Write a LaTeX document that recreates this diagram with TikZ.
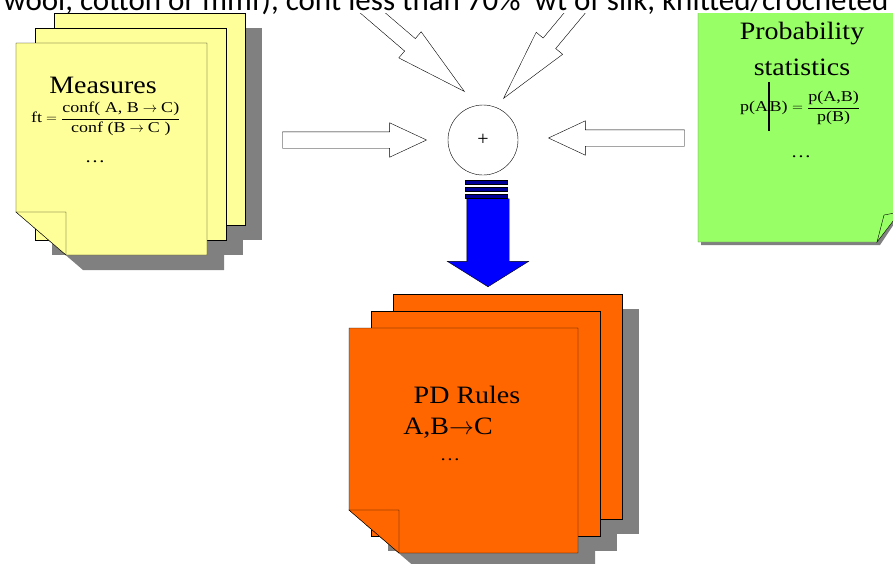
\documentclass[tikz,border=0pt]{standalone}
\usepackage{amsmath}
\usepackage{fontspec}
\setmainfont{Liberation Serif}
\newfontfamily\capfont{Carlito}
\newfontfamily\notefont[FakeStretch=1.12]{Liberation Serif}
\newfontfamily\formfont[FakeStretch=1.2]{Liberation Serif}
\usetikzlibrary{shapes.arrows,positioning}
\definecolor{noteyellow}{HTML}{FFFF99}
\definecolor{notegreen}{HTML}{99FF66}
\definecolor{noteorange}{HTML}{FF6600}
\tikzstyle{shadow} = [fill=black!50]
\tikzstyle{hollow} = [single arrow,draw,thin,fill=white,inner sep=0pt,inner ysep=8pt,single arrow head extend=9pt,single arrow tip angle=50]
\tikzstyle{slanted} = [hollow,single arrow tip angle=27,minimum height=175pt]
\tikzstyle{title} = [font=\notefont\fontsize{25}{28}\selectfont]
\tikzstyle{formula} = [font=\formfont\fontsize{15}{17}\selectfont,inner sep=0pt]
\tikzstyle{dots} = [font=\formfont\fontsize{17}{17}\selectfont,inner sep=0pt]
% stack of three notes: front corner, width, height, step to the next note, colour
\newcommand\pagestack[7]{%
  \begin{scope}[shift={(#1,#2)}]
    \foreach \s in {2,1} \fill[shadow] (17+#5*\s,15+#6*\s) rectangle +(#3,#4);
    \fill[shadow] (17,15) -- +(#3,0) -- +(#3,#4) -- +(50,#4) -- +(0,#4-43) -- cycle;
    \foreach \s in {2,1} \filldraw[fill=#7] (#5*\s,#6*\s) rectangle +(#3,#4);
    \filldraw[fill=#7] (0,0) -- (#3,0) -- (#3,#4) -- (50,#4) -- (0,#4-43) -- cycle;
    \filldraw[fill=#7] (0,#4-43) -- (50,#4-43) -- (50,#4) -- cycle;
  \end{scope}}

\begin{document}
\begin{tikzpicture}[x=1pt,y=-1pt,thin]
  \useasboundingbox (0,0) rectangle (893,563);

  % measures
  \pagestack{16}{43}{191}{212}{19}{-15}{noteyellow}
  \node[title] (measures) at (103,85) {Measures};
  \node[formula,anchor=west] (fit) at (31,119)
    {$\text{ft} = \dfrac{\text{conf( A, B} \rightarrow \text{C)}}{\text{conf (B} \rightarrow \text{C )}}$};
  \node[dots] (mdots) at (95,162) {\ldots};

  % probability
  \fill[shadow] (701,-10) -- (701,245) -- (880,245) -- (900,215) -- (900,-10) -- cycle;
  \filldraw[fill=notegreen,draw=black!60] (698,-10) -- (698,242) -- (877,242) -- (900,206) -- (900,-10) -- cycle;
  \filldraw[fill=notegreen] (877,242) -- (884,215) -- (900,212) -- cycle;
  \node[title] (prob) at (802,34) {Probability};
  \node[title] (stat) at (802,67) {statistics};
  \node[formula] (pform) at (800,108)
    {p(A\smash{\rule[-19pt]{1.6pt}{49pt}}B) $= \dfrac{\text{p(A,B)}}{\text{p(B)}}$};
  \node[dots] (pdots) at (801,157) {\ldots};

  % rules
  \pagestack{349}{328}{229}{225}{22}{-17}{noteorange}
  \node[title] (rules) at (467,395) {PD Rules};
  \node[title] (rab) at (448,428) {A,B$\rightarrow$C};
  \node[dots] (rdots) at (450,460) {\ldots};

  % combining
  \node[circle,draw,minimum size=70pt,inner sep=0pt,font=\fontsize{20}{20}\selectfont] (sum) at (483,140) {+};
  \node[hollow,minimum height=144pt,anchor=tip] (inM) at (427,140) {};
  \node[hollow,minimum height=136pt,anchor=tip,rotate=180] (inP) at (548,138) {};
  \node[slanted,anchor=tip,rotate=-40.6] (inTL) at (465,92) {};
  \node[slanted,anchor=tip,rotate=-129.8] (inTR) at (503,99) {};
  \node[single arrow,draw,fill=blue,inner sep=0pt,inner ysep=21pt,single arrow head extend=19.5pt,
    single arrow tip angle=116,minimum height=88pt,anchor=tip,rotate=-90] (out) at (488,287) {};
  \foreach \y in {180,187,194}
    \filldraw[fill=blue!60!black] (465,\y) rectangle (507,\y+4);

  % cut-off line of text above
  \fill[white] (-5,-40) rectangle (898,12.5);
  \node[anchor=base,inner sep=0pt,font=\capfont\fontsize{31}{34}\selectfont] (caption) at (446,10)
    {wool, cotton or mmf), cont less than 70\%\ \ wt of silk, knitted/crocheted};
\end{tikzpicture}
\end{document}
